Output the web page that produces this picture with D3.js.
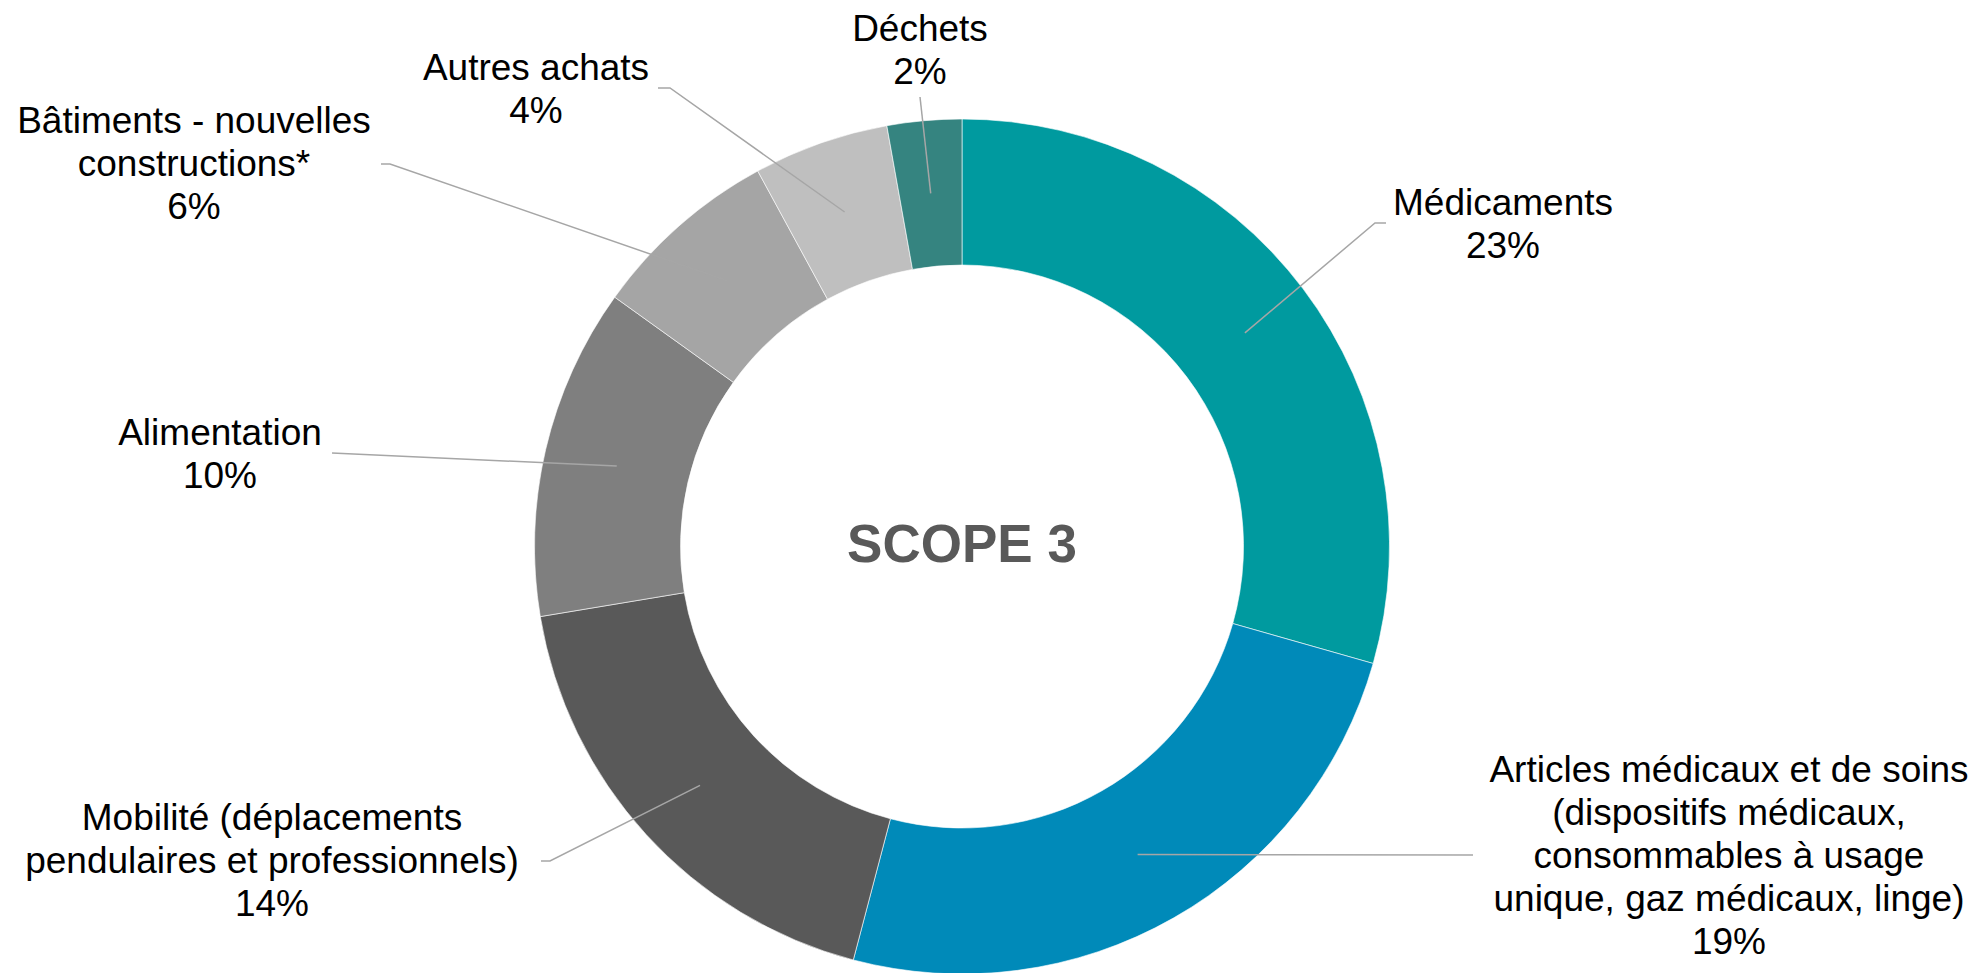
<!DOCTYPE html>
<html>
<head>
<meta charset="utf-8">
<script src="https://cdn.jsdelivr.net/npm/d3@7"></script>
<style>
  body { margin: 0; background: #fff; }
  svg { display: block; font-family: "Liberation Sans", Arial, sans-serif; }
</style>
</head>
<body>
<svg id="chart"></svg>
<script>
// categories and values (share of total footprint, %)
const categories = [
  "Médicaments",
  "Articles médicaux et de soins",
  "Mobilité",
  "Alimentation",
  "Bâtiments - nouvelles constructions*",
  "Autres achats",
  "Déchets"
];
const values = [23.0, 19.3, 14.3, 9.8, 5.6, 4.0, 2.2];
const labelLines = [
  ["Médicaments"],
  ["Articles médicaux et de soins", "(dispositifs médicaux,", "consommables à usage", "unique, gaz médicaux, linge)"],
  ["Mobilité (déplacements", "pendulaires et professionnels)"],
  ["Alimentation"],
  ["Bâtiments - nouvelles", "constructions*"],
  ["Autres achats"],
  ["Déchets"]
];
const colors = ["#009a9f", "#008ab9", "#595959", "#7f7f7f", "#a5a5a5", "#bfbfbf", "#358480"];

const width = 1980;
const height = 973;
const cx = 962, cy = 546.5;
const outerR = 427.5, innerR = 281.5;
const lineH = 43;

// label placement: text centre x, first baseline y, leader elbow + end
const labelPos = [
  { x: 1503, y: 215, pts: [[1375, 223], [1386, 223]] },
  { x: 1729, y: 782, pts: [[1473, 855]] },
  { x: 272, y: 830, pts: [[550, 861], [541, 861]] },
  { x: 220, y: 445, pts: [[332, 453]] },
  { x: 194, y: 133, pts: [[390, 164], [381, 164]] },
  { x: 536, y: 80, pts: [[670, 88], [658, 88]] },
  { x: 920, y: 41, pts: [[920, 97]] }
];

const data = categories.map((c, i) => ({ label: c, value: values[i], lines: labelLines[i], pos: labelPos[i] }));

const svg = d3.select("#chart").attr("width", width).attr("height", height);

const pie = d3.pie().sort(null).value(d => d.value);
const arcs = pie(data);
const arc = d3.arc().innerRadius(innerR).outerRadius(outerR);

const g = svg.append("g").attr("transform", `translate(${cx},${cy})`);

g.selectAll("path.slice")
  .data(arcs)
  .enter()
  .append("path")
  .attr("class", "slice")
  .attr("d", arc)
  .attr("fill", (d, i) => colors[i])
  .attr("stroke", "#ffffff")
  .attr("stroke-width", 0.6);

// leader lines from slice centroid
const line = d3.line();
svg.append("g")
  .selectAll("path")
  .data(arcs)
  .enter()
  .append("path")
  .attr("d", d => {
    const c = arc.centroid(d);
    return line([[c[0] + cx, c[1] + cy], ...d.data.pos.pts]);
  })
  .attr("fill", "none")
  .attr("stroke", "#a6a6a6")
  .attr("stroke-width", 1.5);

// labels
const labels = svg.append("g")
  .selectAll("text")
  .data(arcs)
  .enter()
  .append("text")
  .attr("text-anchor", "middle")
  .attr("font-size", 37)
  .attr("fill", "#000");

labels.each(function (d) {
  const t = d3.select(this);
  const rows = [...d.data.lines, Math.round(d.data.value) + "%"];
  rows.forEach((r, j) => {
    t.append("tspan")
      .attr("x", d.data.pos.x)
      .attr("y", d.data.pos.y + j * lineH)
      .text(r);
  });
});

// centre title
svg.append("text")
  .attr("x", cx)
  .attr("y", 562)
  .attr("text-anchor", "middle")
  .attr("font-size", 53)
  .attr("font-weight", "bold")
  .attr("fill", "#595959")
  .text("SCOPE 3");
</script>
</body>
</html>
